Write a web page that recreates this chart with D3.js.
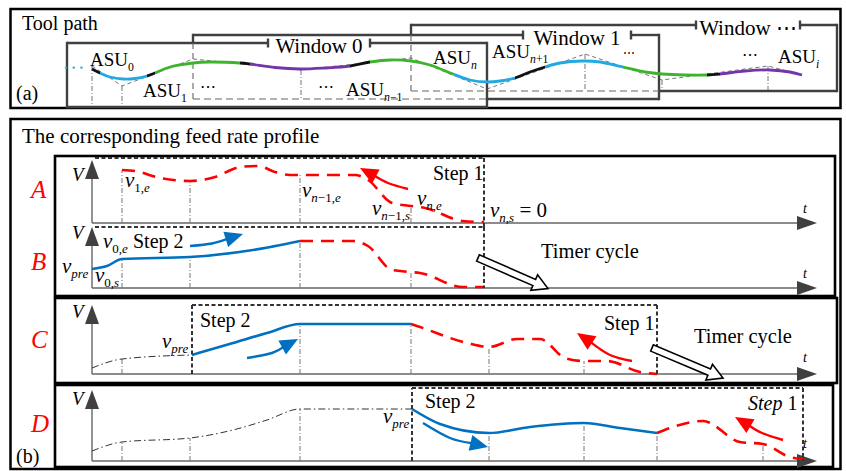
<!DOCTYPE html>
<html>
<head>
<meta charset="utf-8">
<script src="https://cdn.jsdelivr.net/npm/d3@7"></script>
<style>
  html, body { margin: 0; padding: 0; background: #fff; }
  svg { display: block; }
  text { font-family: "Liberation Serif", "Times New Roman", serif; fill: #000; }
</style>
</head>
<body>
<svg id="fig" width="846" height="471"></svg>
<script>
// ---------------- data ----------------
// (a) smoothed tool path: arc position s and height z
const pathS = [0.2,1.0,2.0,3.3,4.5,5.7,6.5,8.0,10.3,12.0,15.0,16.0,18.5,21.0,23.5,26.0,28.0,30.0,32.1,34.0,
               36.3,38.0,39.7,41.0,42.5,44.0,45.5,47.0,49.3,51.0,53.3,55.5,57.2,59.5,61.7,63.0,65.5,68.0,70.0,71.2];
const pathZ = [15.5,13.5,11.5,10.5,10.75,12,13.5,16.5,18.5,19,18.5,18,16.25,15.5,16,17,19,20,19.5,17.5,
               13,10,9,9.5,11,14,16.5,18.5,19.5,19,16.5,14,13,12.5,12.5,13,14.5,15,14,12.5];
// lead-in before ASU0
const leadS = [-2.4, -0.1];
const leadZ = [16.2, 16.2];
// colour bands of the adaptive spline units and their joints
const segStart = [0.2,1.0,5.7,6.5,15.0,16.0,26.0,28.0,36.3,42.5,45.5,53.3,61.7,63.0];
const segEnd   = [1.0,5.7,6.5,15.0,16.0,26.0,28.0,36.3,42.5,45.5,53.3,61.7,63.0,71.2];
const segKind  = ["joint","cyan","joint","green","joint","purple","joint","green","cyan","joint","cyan","green","joint","purple"];
// original linear segments (G01 polyline)
const polyS = [0.2,3.2,10.3,21.1,32.1,39.7,49.5,57.2,67.8,71.2];
const polyZ = [17,7,20.5,15,21,5.5,23,10,17,12.5];
const dropIdx = [0,1,3,6,7,8];
const dropTo  = [-3.5,-3.5,0.5,4.5,4.5,4.5];
// look-ahead windows along the path
const windowNames = ["Window 0","Window 1","Window \u22EF"];
const windowFrom  = [-2.3, 10.3, 32.1];
const windowTo    = [39.7, 56.9, 74.7];
const nameFrom    = [17.8, 43.3, 60.6];
const nameTo      = [28.0, 54.1, 71.0];

// (b) feed rate profiles, t = time, v = feed rate
const tA = [3.0,4.3,6.8,9.8,12.3,14.8,16.6,18.3,19.8,20.8,26.3,27.6,30.0,31.9,33.3,37.1,39.2];
const vA = [10.6,10.4,9.0,8.4,9.2,11.2,11.4,10.2,9.6,9.6,9.6,8.6,4.0,3.4,3.0,0.4,0.2];
const tB_done = [0,1.5,3.0,9.8,16.1,20.8];
const vB_done = [3.8,4.4,5.8,6.2,7.6,9.4];
const tB_plan = [20.8,26.1,27.6,30.0,31.9,32.8,37.1,39.2];
const vB_plan = [9.4,9.4,8.4,3.6,3.2,3.0,0.2,0.2];
const tC_hist = [0,3.0,10.0];
const vC_hist = [1.2,3.0,3.8];
const tC_done = [10.0,14.1,17.5,20.8,31.9];
const vC_done = [3.8,6.2,8.2,10.0,10.0];
const tC_plan = [31.9,32.8,37.5,39.7,42.5,44.8,47.3,49.2,51.5,54.8,56.5];
const vC_plan = [10.0,9.4,6.2,5.4,7.0,7.0,3.2,2.6,2.6,0.4,0.0];
const tD_hist = [0,3.0,9.8,14.1,17.5,20.8,32.0];
const vD_hist = [2.0,3.8,4.6,6.2,8.2,10.4,10.4];
const tD_done = [32.0,34.8,39.7,43.8,49.2,52.8,56.5];
const vD_done = [10.4,7.4,5.6,6.8,7.6,6.6,5.6];
const tD_plan = [56.5,61.1,64.8,67.1,69.8,71.1];
const vD_plan = [5.6,8.0,3.8,3.4,0.8,0.4];
// time marks (segment boundaries) per profile
const marksA = [3.0,9.8,20.8,31.9];
const marksB = [3.0,9.8,20.8,31.9];
const marksC = [3.0,20.8,31.9,39.7,49.2];
const marksD = [3.0,9.8,20.8,39.7,49.2,56.5,67.1];
// step windows [t start, t end]
const stepA = [0, 39.2];
const stepC = [10.0, 56.5];
const stepD = [32.0, 71.1];

// ---------------- drawing ----------------
const svg = d3.select("#fig");
const defs = svg.append("defs");

function rich(g, x, y, parts, opt = {}) {
  const size = opt.size || 20;
  const t = g.append("text").attr("x", x).attr("y", y).attr("font-size", size);
  if (opt.anchor) t.attr("text-anchor", opt.anchor);
  if (opt.fill) t.style("fill", opt.fill);
  let shift = 0;
  parts.forEach(p => {
    const [str, st] = typeof p === "string" ? [p, ""] : p;
    const sub = st.indexOf("sub") >= 0;
    const ts = t.append("tspan").text(str);
    if (st.indexOf("i") >= 0) ts.attr("font-style", "italic");
    const want = sub ? size * 0.26 : 0;
    if (want !== shift) { ts.attr("dy", want - shift); shift = want; }
    if (sub) ts.attr("font-size", size * 0.62);
  });
  return t;
}
function line(g, x1, y1, x2, y2, stroke, w, dash) {
  return g.append("line").attr("x1", x1).attr("y1", y1).attr("x2", x2).attr("y2", y2)
    .attr("stroke", stroke).attr("stroke-width", w).attr("stroke-dasharray", dash || null);
}

// outer frames
svg.append("rect").attr("x", 10.5).attr("y", 9).attr("width", 830).attr("height", 99)
  .attr("fill", "none").attr("stroke", "#000").attr("stroke-width", 2.5);
svg.append("rect").attr("x", 10.5).attr("y", 119).attr("width", 830).attr("height", 350)
  .attr("fill", "none").attr("stroke", "#000").attr("stroke-width", 2.5);

// ===== (a) tool path =====
const gA = svg.append("g");
const sx = d3.scaleLinear().domain([0, 71.2]).range([90, 802]);
const sz = d3.scaleLinear().domain([0, 40]).range([100, 20]);

rich(gA, 22, 30, ["Tool path"], { size: 20 });
rich(gA, 16, 100, ["(a)"], { size: 20 });

// G01 polyline and drop lines
const polyLine = d3.line();
gA.append("path").attr("d", polyLine(polyS.map((s, i) => [sx(s), sz(polyZ[i])])))
  .attr("fill", "none").attr("stroke", "#777").attr("stroke-width", 1).attr("stroke-dasharray", "4,3");
dropIdx.forEach((k, i) => {
  line(gA, sx(polyS[k]), sz(polyZ[k]), sx(polyS[k]), sz(dropTo[i]), "#777", 1, "5,2,1,2");
});

// windows
const winTop = [43, 35, 25], winBottom = [107, 99, 91];
const WC = "#404040";
windowFrom.forEach((f, k) => {
  const x0 = sx(f), x1 = sx(windowTo[k]), yT = winTop[k], yB = winBottom[k];
  const g0 = sx(nameFrom[k]), g1 = sx(nameTo[k]);
  line(gA, x0, yT, g0, yT, WC, 2.4);
  line(gA, g1, yT, x1, yT, WC, 2.4);
  line(gA, g0, yT - 4.5, g0, yT + 4.5, WC, 2.4);
  line(gA, g1, yT - 4.5, g1, yT + 4.5, WC, 2.4);
  line(gA, x1, yT - 1.2, x1, yB + 1.2, WC, 2.4);
  if (k === 0) {
    line(gA, x0, yT - 1.2, x0, yB + 1.2, WC, 2.4);
    line(gA, x0, yB, x1, yB, WC, 2.4);
  } else {
    const p = k - 1, px = sx(windowTo[p]);
    line(gA, x0, yT - 1.2, x0, winTop[p], WC, 2.4);
    line(gA, x0, winTop[p], x0, yB, "#666", 1.1, "6,4");
    line(gA, x0, yB, px, yB, "#666", 1.1, "7,4");
    line(gA, px, yB, x1, yB, WC, 2.4);
  }
  rich(gA, (g0 + g1) / 2, yT + 9.5, [windowNames[k]], { size: 21, anchor: "middle" });
});

// lead-in dots
gA.append("path").attr("d", polyLine(leadS.map((s, i) => [sx(s), sz(leadZ[i])])))
  .attr("fill", "none").attr("stroke", "#22a9e1").attr("stroke-width", 2.4)
  .attr("stroke-linecap", "round").attr("stroke-dasharray", "0.1,7.6");

// smooth path, coloured per unit
const asuColor = { joint: "#111111", cyan: "#22a9e1", green: "#3cb52c", purple: "#7436a6" };
const toolD = d3.line().curve(d3.curveCatmullRom.alpha(0.5))(pathS.map((s, i) => [sx(s), sz(pathZ[i])]));
segStart.forEach((s0, i) => {
  const id = "band" + i;
  const xa = sx(s0) - (i === 0 ? 3 : 0), xb = sx(segEnd[i]) + (i === segStart.length - 1 ? 3 : 0);
  defs.append("clipPath").attr("id", id).append("rect")
    .attr("x", xa).attr("y", 0).attr("width", xb - xa).attr("height", 115);
  gA.append("path").attr("d", toolD).attr("clip-path", `url(#${id})`)
    .attr("fill", "none").attr("stroke", asuColor[segKind[i]]).attr("stroke-width", 2.8);
});

// unit labels
rich(gA, 90, 66, ["ASU", ["0", "sub"]], { size: 19 });
rich(gA, 143, 97, ["ASU", ["1", "sub"]], { size: 19 });
rich(gA, 200, 92, ["\u22EF"], { size: 16 });
rich(gA, 318, 92, ["\u22EF"], { size: 16 });
rich(gA, 346, 96, ["ASU", ["n", "subi"], ["\u22121", "sub"]], { size: 19 });
rich(gA, 433, 64, ["ASU", ["n", "subi"]], { size: 19 });
rich(gA, 492, 58, ["ASU", ["n", "subi"], ["+1", "sub"]], { size: 19 });
rich(gA, 623, 57, ["\u22EF"], { size: 12 });
rich(gA, 742, 60, ["\u22EF"], { size: 16 });
rich(gA, 778, 63, ["ASU", ["i", "subi"]], { size: 19 });

// ===== (b) feed rate profiles =====
const gB = svg.append("g");
rich(gB, 22, 143, ["The corresponding feed rate profile"], { size: 21 });
rich(gB, 16, 463, ["(b)"], { size: 20 });

// sub-panel frames
[[55, 156, 835, 296], [55, 298, 837, 383], [55, 385, 833, 467]].forEach(b => {
  gB.append("rect").attr("x", b[0]).attr("y", b[1]).attr("width", b[2] - b[0]).attr("height", b[3] - b[1])
    .attr("fill", "none").attr("stroke", "#000").attr("stroke-width", 2.6);
});

const tx = d3.scaleLinear().domain([0, 72.5]).range([92, 817]);
const layout = {
  A: { axisY: 223, tipY: 160, letterY: 198, vY: 181, tY: 213 },
  B: { axisY: 288, tipY: 227, letterY: 270, vY: 239, tY: 278 },
  C: { axisY: 374, tipY: 305, letterY: 348, vY: 318, tY: 362 },
  D: { axisY: 461, tipY: 390, letterY: 432, vY: 405, tY: 448 }
};
const vy = {};
Object.keys(layout).forEach(k => {
  const L = layout[k];
  vy[k] = d3.scaleLinear().domain([0, 10]).range([L.axisY, L.axisY - 50]);
});

const RED = "#ff0000", BLUE = "#0070c0";
const mono = d3.line().x(d => tx(d[0])).curve(d3.curveMonotoneX);

function series(k, ts, vs, kind) {
  const y = vy[k];
  const d = mono.y(p => y(p[1]))(ts.map((t, i) => [t, vs[i]]));
  const p = gB.append("path").attr("d", d).attr("fill", "none");
  if (kind === "plan") p.attr("stroke", RED).attr("stroke-width", 2.6).attr("stroke-dasharray", "13,8");
  else if (kind === "done") p.attr("stroke", BLUE).attr("stroke-width", 2.6);
  else p.attr("stroke", "#333").attr("stroke-width", 1).attr("stroke-dasharray", "7,3,1.5,3");
}
function marks(k, ms, tsList, vsList) {
  const y = vy[k];
  ms.forEach(m => {
    let top = null;
    tsList.forEach((ts, j) => ts.forEach((t, i) => { if (Math.abs(t - m) < 1e-6) top = vsList[j][i]; }));
    line(gB, tx(m), y(0), tx(m), y(top), "#777", 1, "5,2,1,2");
  });
}
function axes(k) {
  const L = layout[k], x0 = tx(0), x1 = tx(72.5);
  line(gB, x0, L.axisY, x0, L.tipY + 16, "#666", 1.4);
  line(gB, x0, L.axisY, x1 - 18, L.axisY, "#666", 1.4);
  gB.append("path").attr("d", `M${x0},${L.tipY}L${x0 - 7},${L.tipY + 19}L${x0 + 7},${L.tipY + 19}Z`).attr("fill", "#404040");
  gB.append("path").attr("d", `M${x1},${L.axisY}L${x1 - 20},${L.axisY - 7}L${x1 - 20},${L.axisY + 7}Z`).attr("fill", "#404040");
  rich(gB, 72, L.vY, [["V", "i"]], { size: 19 });
  rich(gB, 803, L.tY, [["t", "i"]], { size: 14 });
  rich(gB, 31, L.letterY, [[k, "i"]], { size: 25, fill: RED });
}
function bentArrow(k, pts, color) {
  const y = vy[k];
  const P = pts.map(d => [tx(d[0]), y(d[1])]);
  const [s, m, tip] = P;
  let dx = tip[0] - m[0], dy = tip[1] - m[1];
  const len = Math.hypot(dx, dy); dx /= len; dy /= len;
  const HL = 18, HW = 8;
  const base = [tip[0] - dx * HL, tip[1] - dy * HL];
  gB.append("path").attr("d", d3.line().curve(d3.curveNatural)([s, m, [base[0] + dx * 2, base[1] + dy * 2]]))
    .attr("fill", "none").attr("stroke", color).attr("stroke-width", 2.4);
  const nx = -dy, ny = dx;
  gB.append("path").attr("d", `M${tip[0]},${tip[1]}L${base[0] + nx * HW},${base[1] + ny * HW}L${base[0] - nx * HW},${base[1] - ny * HW}Z`)
    .attr("fill", color);
}
function timerArrow(k, a, b) {
  const y = vy[k];
  const A = [tx(a[0]), y(a[1])], B = [tx(b[0]), y(b[1])];
  const dx = B[0] - A[0], dy = B[1] - A[1], len = Math.hypot(dx, dy);
  const ux = dx / len, uy = dy / len, nx = -uy, ny = ux;
  const hw = 3.4, HW = 8.5, HL = 15;
  const bx = B[0] - ux * HL, by = B[1] - uy * HL;
  const pts = [
    [A[0] + nx * hw, A[1] + ny * hw], [bx + nx * hw, by + ny * hw], [bx + nx * HW, by + ny * HW], B,
    [bx - nx * HW, by - ny * HW], [bx - nx * hw, by - ny * hw], [A[0] - nx * hw, A[1] - ny * hw]
  ];
  gB.append("path").attr("d", "M" + pts.map(p => p.join(",")).join("L") + "Z")
    .attr("fill", "#fff").attr("stroke", "#000").attr("stroke-width", 1.6).attr("stroke-linejoin", "miter");
}
const DASHBOX = { stroke: "#333", w: 2, dash: "4,2.5" };
function dashSeg(x1, y1, x2, y2) { line(gB, x1, y1, x2, y2, DASHBOX.stroke, DASHBOX.w, DASHBOX.dash); }

// --- A ---
axes("A");
marks("A", marksA, [tA], [vA]);
series("A", tA, vA, "plan");
dashSeg(tx(stepA[0]) + 3, vy.A(13), tx(stepA[1]), vy.A(13));
dashSeg(tx(stepA[0]) + 3, vy.A(-0.8), tx(stepA[1]), vy.A(-0.8));
dashSeg(tx(stepA[1]), vy.A(13), tx(stepA[1]), vy.A(-0.8));
bentArrow("A", [[31.6, 6.8], [29.6, 8.0], [26.8, 11.0]], RED);
rich(gB, 125, 187, [["v", "i"], ["1,", "sub"], ["e", "subi"]], { size: 21 });
rich(gB, 302, 197, [["v", "i"], ["n", "subi"], ["\u22121,", "sub"], ["e", "subi"]], { size: 21 });
rich(gB, 372, 215, [["v", "i"], ["n", "subi"], ["\u22121,", "sub"], ["s", "subi"]], { size: 21 });
rich(gB, 417, 205, [["v", "i"], ["n", "subi"], [",", "sub"], ["e", "subi"]], { size: 21 });
rich(gB, 490, 217, [["v", "i"], ["n", "subi"], [",", "sub"], ["s", "subi"], " = 0"], { size: 21 });
rich(gB, 433, 180, ["Step 1"], { size: 20 });

// --- B ---
axes("B");
marks("B", marksB, [tB_done, tB_plan], [vB_done, vB_plan]);
series("B", tB_done, vB_done, "done");
series("B", tB_plan, vB_plan, "plan");
dashSeg(tx(stepA[1]), vy.B(12.2), tx(stepA[1]), vy.B(0));
bentArrow("B", [[9.8, 8.4], [12.0, 8.9], [15.1, 10.8]], BLUE);
rich(gB, 103, 248, [["v", "i"], ["0,", "sub"], ["e", "subi"]], { size: 21 });
rich(gB, 133, 248, ["Step 2"], { size: 20 });
rich(gB, 62, 273, [["v", "i"], ["pre", "subi"]], { size: 21 });
rich(gB, 95, 282, [["v", "i"], ["0,", "sub"], ["s", "subi"]], { size: 21 });
rich(gB, 541, 258, ["Timer cycle"], { size: 20.5 });
timerArrow("B", [38.6, 6.0], [45.6, -0.1]);

// --- C ---
axes("C");
marks("C", marksC, [tC_hist, tC_done, tC_plan], [vC_hist, vC_done, vC_plan]);
series("C", tC_hist, vC_hist, "hist");
series("C", tC_done, vC_done, "done");
series("C", tC_plan, vC_plan, "plan");
dashSeg(tx(stepC[0]), vy.C(0), tx(stepC[0]), vy.C(13.8));
dashSeg(tx(stepC[0]), vy.C(13.8), tx(stepC[1]), vy.C(13.8));
dashSeg(tx(stepC[1]), vy.C(13.8), tx(stepC[1]), vy.C(0));
bentArrow("C", [[15.5, 3.2], [18.0, 4.2], [20.6, 7.0]], BLUE);
bentArrow("C", [[54.0, 2.6], [51.8, 3.8], [48.5, 8.2]], RED);
rich(gB, 200, 327, ["Step 2"], { size: 20 });
rich(gB, 162, 348, [["v", "i"], ["pre", "subi"]], { size: 21 });
rich(gB, 604, 330, ["Step 1"], { size: 20 });
rich(gB, 694, 343, ["Timer cycle"], { size: 20.5 });
timerArrow("C", [56.0, 5.2], [63.1, -0.8]);

// --- D ---
axes("D");
marks("D", marksD, [tD_hist, tD_done, tD_plan], [vD_hist, vD_done, vD_plan]);
series("D", tD_hist, vD_hist, "hist");
series("D", tD_done, vD_done, "done");
series("D", tD_plan, vD_plan, "plan");
dashSeg(tx(stepD[0]), vy.D(0), tx(stepD[0]), vy.D(14.6));
dashSeg(tx(stepD[0]), vy.D(14.6), tx(stepD[1]), vy.D(14.6));
dashSeg(tx(stepD[1]), vy.D(14.6), tx(stepD[1]), vy.D(0));
bentArrow("D", [[33.1, 7.6], [35.8, 4.6], [39.6, 2.8]], BLUE);
bentArrow("D", [[69.1, 4.2], [67.0, 5.6], [64.3, 8.8]], RED);
rich(gB, 383, 423, [["v", "i"], ["pre", "subi"]], { size: 21 });
rich(gB, 425, 408, ["Step 2"], { size: 20 });
rich(gB, 748, 410, [["Step", "i"], " 1"], { size: 20 });
</script>
</body>
</html>
